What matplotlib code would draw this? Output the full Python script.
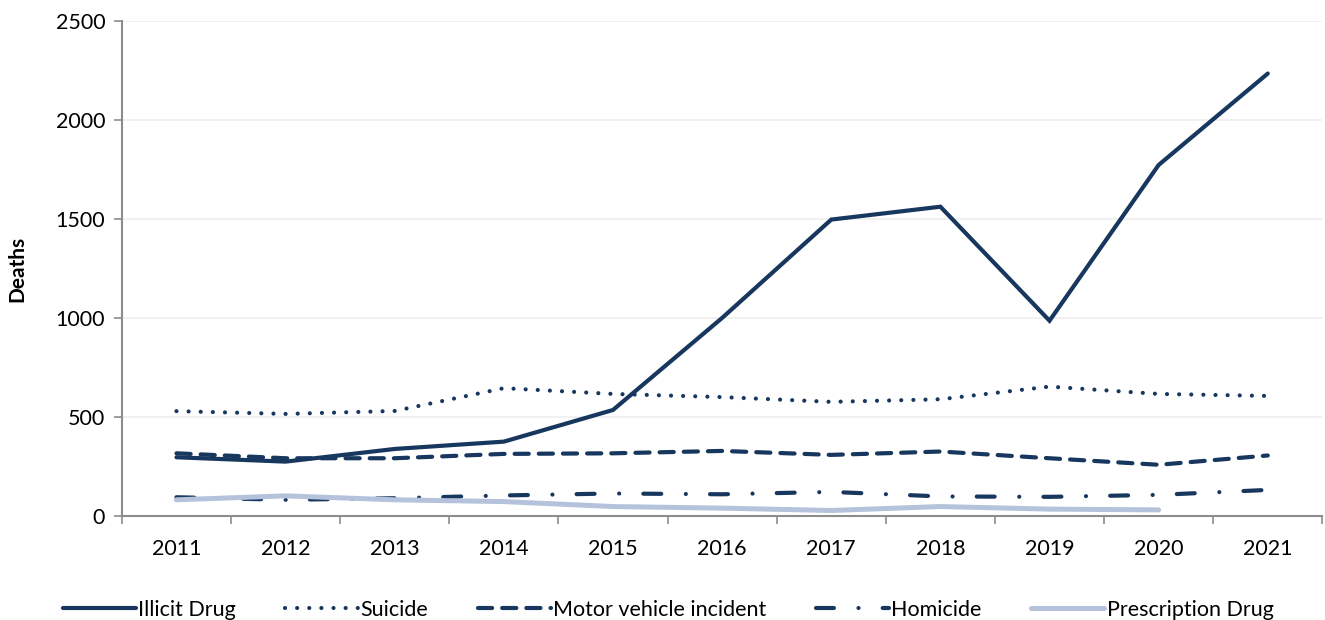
import matplotlib.pyplot as plt
import numpy as np

years = [2011, 2012, 2013, 2014, 2015, 2016, 2017, 2018, 2019, 2020, 2021]

illicit_drug = [296, 274, 338, 375, 535, 1000, 1497, 1562, 986, 1773, 2235]
suicide = [529, 515, 530, 645, 616, 600, 576, 589, 653, 616, 606]
motor_vehicle = [316, 291, 291, 313, 316, 328, 308, 325, 291, 258, 305]
homicide = [94, 81, 89, 103, 113, 109, 121, 98, 96, 106, 131]
prescription_drug = [81, 101, 81, 72, 47, 39, 27, 47, 34, 30]

navy = '#17375E'
light = '#B4C2DB'

plt.rcParams['font.family'] = ['Lato', 'DejaVu Sans']

fig = plt.figure(figsize=(13.25, 6.2), dpi=100)
ax = fig.add_axes([0.092, 0.168, 0.906, 0.798])

lw = 3.0
ax.plot(years, illicit_drug, color=navy, lw=lw, label='Illicit Drug',
        solid_joinstyle='miter', solid_capstyle='round')
ax.plot(years, suicide, color=navy, lw=lw, label='Suicide',
        linestyle=(0, (0.01, 2.9)), dash_capstyle='round')
ax.plot(years, motor_vehicle, color=navy, lw=lw, label='Motor vehicle incident',
        linestyle=(0, (3.4, 2.4)), dash_capstyle='round')
ax.plot(years, homicide, color=navy, lw=lw, label='Homicide',
        linestyle=(0, (4.3, 5.9, 0.01, 5.8)), dash_capstyle='round')
ax.plot(years[:len(prescription_drug)], prescription_drug, color=light, lw=3.6,
        label='Prescription Drug', solid_capstyle='round')

ax.set_xlim(2010.5, 2021.5)
ax.set_ylim(0, 2500)

# ticks between categories, labels at centres
ax.set_xticks(np.arange(2010.5, 2022, 1))
ax.set_xticklabels([])
ax.set_xticks(years, minor=True)
ax.set_xticklabels([str(y) for y in years], minor=True)
ax.tick_params(axis='x', which='major', length=6, width=1.2, color='#8C8C8C', direction='out')
ax.tick_params(axis='x', which='minor', length=0, pad=17, labelsize=15.5)

ax.set_yticks(np.arange(0, 2501, 500))
ax.tick_params(axis='y', length=6, width=1.2, color='#8C8C8C', direction='out', pad=6, labelsize=15.5)

ax.grid(axis='y', color='#EFEFEF', lw=1.2)
ax.set_axisbelow(True)

for s in ['top', 'right']:
    ax.spines[s].set_visible(False)
for s in ['left', 'bottom']:
    ax.spines[s].set_color('#8C8C8C')
    ax.spines[s].set_linewidth(1.5)

ax.set_ylabel('Deaths', fontsize=15, fontweight='bold', labelpad=20)

ax.legend(loc='upper center', bbox_to_anchor=(0.455, -0.13), ncol=5, frameon=False,
          fontsize=15.5, handlelength=3.4, columnspacing=2.3, handletextpad=0.1)

fig.savefig('out.png', dpi=100)
